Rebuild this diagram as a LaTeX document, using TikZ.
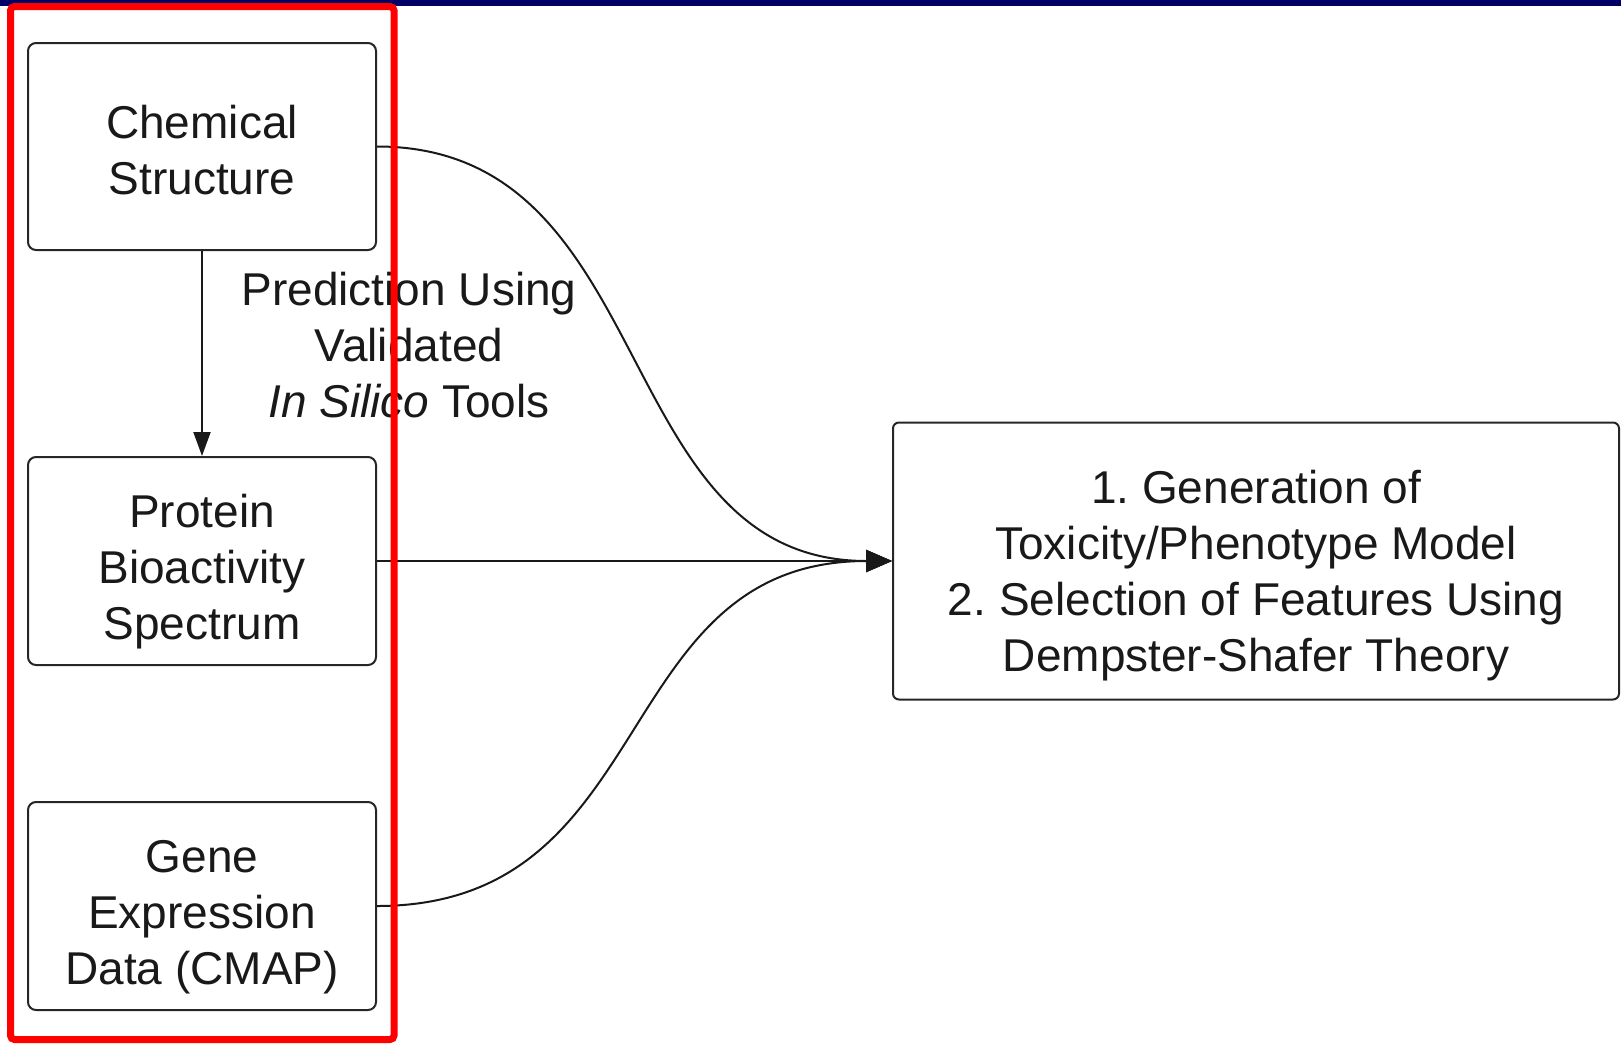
\documentclass[tikz,border=0pt]{standalone}
\usepackage{fontspec}
\setmainfont{Liberation Sans}
\usetikzlibrary{arrows.meta}
\definecolor{navybar}{RGB}{0,0,102}
\definecolor{framered}{RGB}{255,0,0}
\frenchspacing
\begin{document}
\begin{tikzpicture}[x=0.5pt,y=-0.5pt,
  box/.style={draw=black!85, line width=1pt, rounded corners=4pt, inner sep=0pt},
  txt/.style={align=center, inner sep=0pt, font=\fontsize{23}{28}\selectfont, text=black!90},
  conn/.style={line width=1pt, draw=black!90},
  bigtip/.style={-{Triangle[length=13pt,width=11pt]}},
  smalltip/.style={-{Triangle[length=12pt,width=8.5pt]}}
]
\useasboundingbox (0,0) rectangle (1621,1044);
\fill[navybar] (0,0) rectangle (1621,6);
\node[box, minimum width=174pt, minimum height=103.5pt] (chem) at (202,146.5) {};
\node[txt, yshift=-2pt] (chemtxt) at (chem) {Chemical\\Structure};
\node[box, minimum width=174pt, minimum height=104pt] (prot) at (202,561) {};
\node[txt, yshift=-5.5pt] (prottxt) at (prot) {Protein\\Bioactivity\\Spectrum};
\node[box, minimum width=174pt, minimum height=104pt] (gene) at (202,906) {};
\node[txt, yshift=-5.5pt] (genetxt) at (gene) {Gene\\Expression\\Data (CMAP)};
\node[box, minimum width=363pt, minimum height=138.5pt, rounded corners=3pt] (model) at (1256,561) {};
\node[txt, yshift=-7.5pt] (modeltxt) at (model) {1. Generation of\\Toxicity/Phenotype Model\\2. Selection of Features Using\\Dempster-Shafer Theory};
\node[txt] (lbl) at (409,345.5) {Prediction Using\\Validated\\\textit{In Silico} Tools};
\draw[conn, smalltip] (chem) -- (prot);
\draw[conn, bigtip] (prot.east) -- (model.west);
\draw[conn, bigtip] (chem.east) .. controls +(285,0) and +(-285,0) .. (model.west);
\draw[conn, bigtip] (gene.east) .. controls +(285,0) and +(-285,0) .. (model.west);
\draw[framered, line width=3.5pt, rounded corners=2pt] (10.5,6.5) rectangle (394,1039.5);
\end{tikzpicture}
\end{document}
